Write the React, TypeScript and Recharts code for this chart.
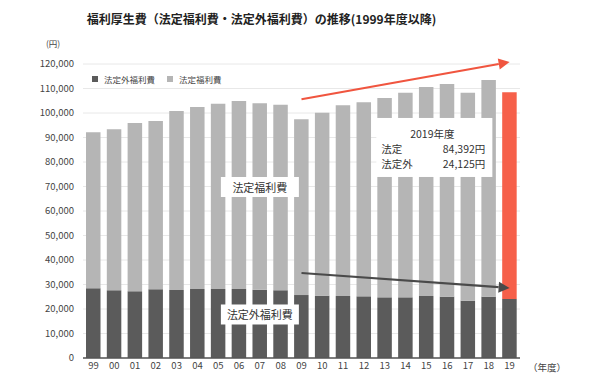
import { Bar, BarChart, CartesianGrid, Cell, Legend, ReferenceDot, ReferenceLine, XAxis, YAxis } from "recharts";

const years = ["99", "00", "01", "02", "03", "04", "05", "06", "07", "08", "09", "10", "11", "12", "13", "14", "15", "16", "17", "18", "19"];
// 法定外福利費 (円)
const nonStatutory = [28440, 27630, 27210, 28030, 27750, 28160, 28160, 28160, 27890, 27630, 25700, 25440, 25300, 25170, 24760, 24760, 25300, 25030, 23400, 25030, 24125];
// 法定福利費 (円)
const statutory = [63690, 65720, 68690, 68670, 73050, 74290, 75640, 76740, 76060, 75770, 71700, 74660, 77850, 79180, 81340, 83540, 85300, 86820, 84900, 88420, 84392];
const yTicks = [0, 10000, 20000, 30000, 40000, 50000, 60000, 70000, 80000, 90000, 100000, 110000, 120000];

const data = years.map((y, i) => ({ year: y, outside: nonStatutory[i], legal: statutory[i] }));

const FONT = '"Noto Sans CJK JP", "Noto Sans", sans-serif';
const DARK = "#5b5b5b";
const LIGHT = "#b5b5b5";
const RED = "#f6604a";

const last = years.length - 1;

function arrow(color: string) {
  return (p: any) => {
    const { x1, y1, x2, y2 } = p;
    const ang = Math.atan2(y2 - y1, x2 - x1);
    const len = 11;
    const hw = 5.5;
    const bx = x2 - len * Math.cos(ang);
    const by = y2 - len * Math.sin(ang);
    const nx = -Math.sin(ang) * hw;
    const ny = Math.cos(ang) * hw;
    return (
      <g>
        <line x1={x1} y1={y1} x2={bx} y2={by} stroke={color} strokeWidth={2.2} />
        <polygon points={`${x2},${y2} ${bx + nx},${by + ny} ${bx - nx},${by - ny}`} fill={color} />
      </g>
    );
  };
}

function labelBox(text: string, w: number) {
  return (p: any) => (
    <g>
      <rect x={p.cx - w / 2} y={p.cy - 10} width={w} height={20} fill="#fff" />
      <text x={p.cx} y={p.cy} textAnchor="middle" dominantBaseline="central" fontSize={11} fill="#333" fontFamily={FONT}>
        {text}
      </text>
    </g>
  );
}

function infoBox(p: any) {
  const left = p.cx - 50;
  const top = p.cy - 29.5;
  return (
    <g fontFamily={FONT} fontSize={10.5} fill="#333">
      <rect x={left} y={top} width={116} height={59} fill="#fff" />
      <text x={left + 56} y={top + 16} textAnchor="middle" dominantBaseline="central">{`20${years[last]}年度`}</text>
      <text x={left + 5} y={top + 31} dominantBaseline="central">法定</text>
      <text x={left + 109} y={top + 31} textAnchor="end" dominantBaseline="central">{`${statutory[last].toLocaleString()}円`}</text>
      <text x={left + 5} y={top + 46} dominantBaseline="central">法定外</text>
      <text x={left + 109} y={top + 46} textAnchor="end" dominantBaseline="central">{`${nonStatutory[last].toLocaleString()}円`}</text>
    </g>
  );
}

function LegendContent() {
  const items = [
    { name: "法定外福利費", color: DARK },
    { name: "法定福利費", color: LIGHT }
  ];
  return (
    <div style={{ display: "flex", gap: 12, fontFamily: FONT, fontSize: 8.5, color: "#444", alignItems: "center" }}>
      {items.map((it) => (
        <div key={it.name} style={{ display: "flex", alignItems: "center", gap: 6 }}>
          <span style={{ width: 6, height: 6, background: it.color, display: "inline-block" }} />
          <span>{it.name}</span>
        </div>
      ))}
    </div>
  );
}

export default function App() {
  return (
    <div style={{ position: "fixed", left: 0, top: 0, width: 602, height: 381, background: "#fff", fontFamily: FONT }}>
      <div style={{ position: "absolute", top: 10, left: 0, width: 523, textAlign: "center", fontSize: 12, fontWeight: 700, color: "#222" }}>
        福利厚生費（法定福利費・法定外福利費）の推移(1999年度以降)
      </div>
      <div style={{ position: "absolute", top: 37, left: 46, fontSize: 8.5, color: "#444" }}>(円)</div>
      <div style={{ position: "absolute", top: 360, left: 528, fontSize: 9.5, color: "#444" }}>（年度）</div>
      <BarChart width={602} height={381} data={data} margin={{ top: 64, right: 82, bottom: 3, left: 0 }} barSize={14.5}>
        <CartesianGrid vertical={false} stroke="#e8e8e8" />
        <XAxis
          dataKey="year"
          tickLine={false}
          axisLine={{ stroke: "#555", strokeWidth: 1.5 }}
          tickSize={4}
          tickMargin={0}
          height={20}
          interval={0}
          tick={{ fontSize: 9.5, fill: "#444", fontFamily: FONT }}
        />
        <YAxis
          width={83}
          domain={[0, 120000]}
          ticks={yTicks}
          axisLine={false}
          tickLine={false}
          tickMargin={3}
          tick={{ fontSize: 9.5, fill: "#444", fontFamily: FONT }}
          tickFormatter={(v: number) => v.toLocaleString()}
        />
        <Legend layout="vertical" verticalAlign="middle" align="center" wrapperStyle={{ top: 73, left: 92, width: "auto" }} content={<LegendContent />} />
        <Bar dataKey="outside" name="法定外福利費" stackId="a" fill={DARK} isAnimationActive={false} />
        <Bar dataKey="legal" name="法定福利費" stackId="a" fill={LIGHT} isAnimationActive={false}>
          {data.map((d, i) => (
            <Cell key={d.year} fill={i === last ? RED : LIGHT} />
          ))}
        </Bar>
        <ReferenceLine
          segment={[{ x: "09", y: 105600 }, { x: "19", y: 120800 }]}
          ifOverflow="visible"
          shape={arrow("#f0553f")}
        />
        <ReferenceLine
          segment={[{ x: "09", y: 34700 }, { x: "19", y: 28570 }]}
          ifOverflow="visible"
          shape={arrow("#4a4a4a")}
        />
        <ReferenceDot x="07" y={69800} r={0} ifOverflow="visible" shape={labelBox("法定福利費", 78)} />
        <ReferenceDot x="07" y={17760} r={0} ifOverflow="visible" shape={labelBox("法定外福利費", 78)} />
        <ReferenceDot x="15" y={85930} r={0} ifOverflow="visible" shape={infoBox} />
      </BarChart>
    </div>
  );
}
